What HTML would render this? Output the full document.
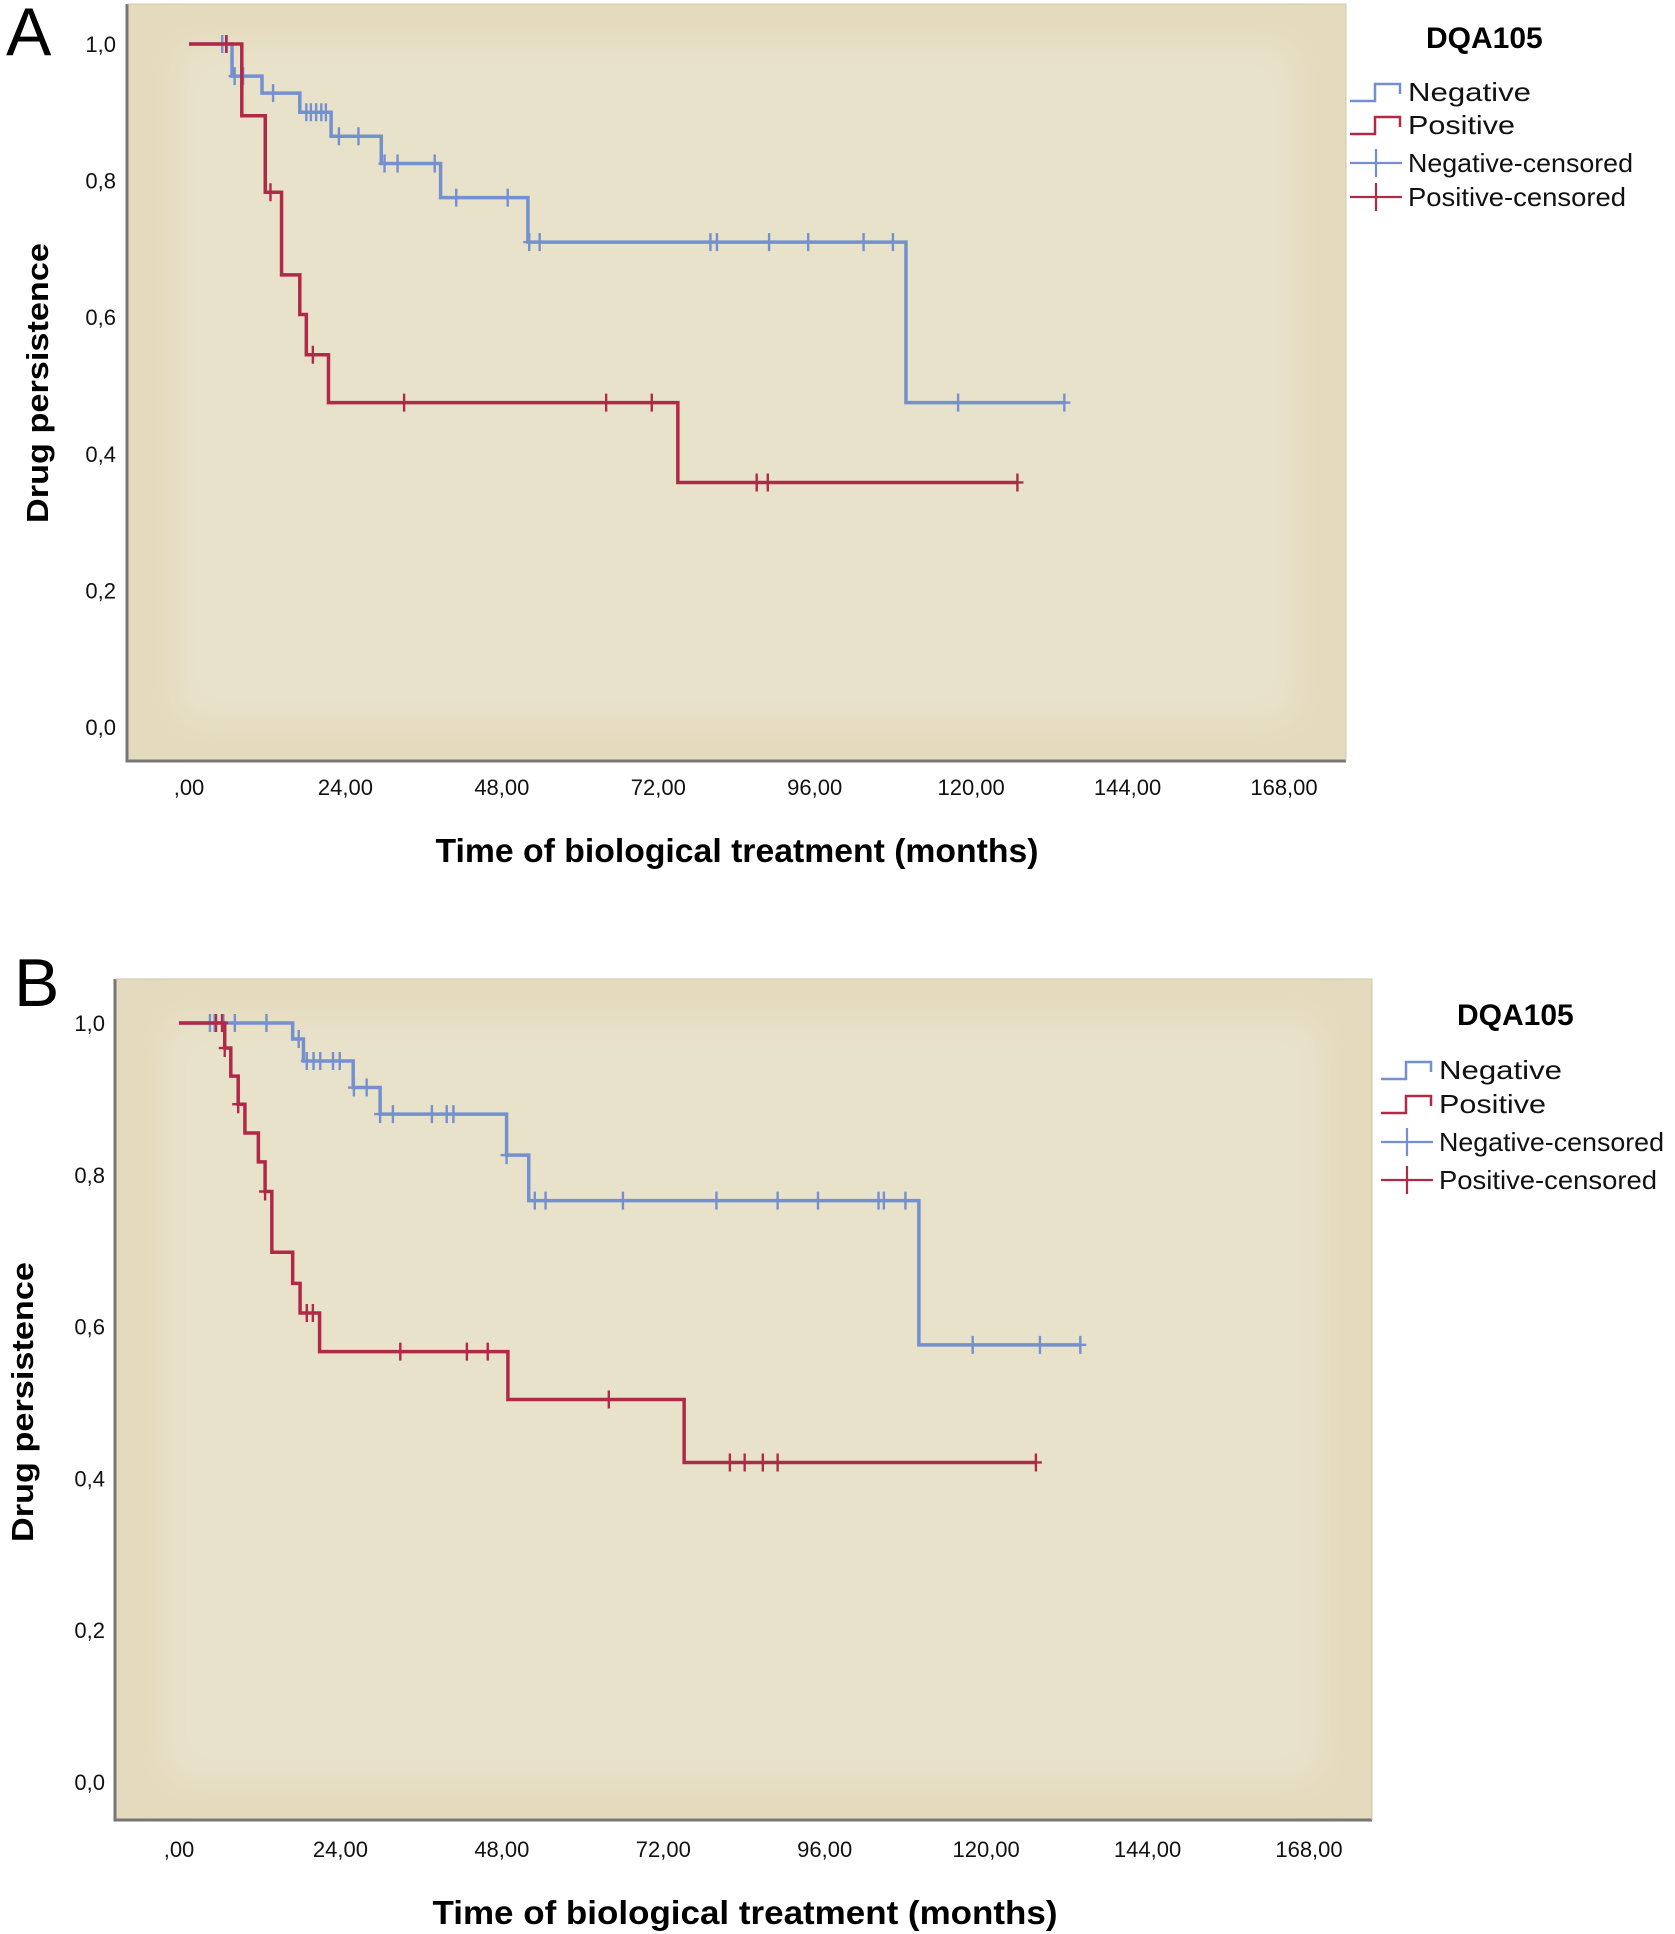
<!DOCTYPE html>
<html><head><meta charset="utf-8"><style>
html,body{margin:0;padding:0;background:#fff;}
svg{display:block;font-family:"Liberation Sans",sans-serif;}
</style></head><body>
<svg id="chart" width="1675" height="1934" viewBox="0 0 1675 1934" xmlns="http://www.w3.org/2000/svg">
<defs>
<filter id="blur" x="-10%" y="-10%" width="120%" height="120%"><feGaussianBlur stdDeviation="18"/></filter>
</defs>
</svg>
<script>
// ---- Data (months, survival) ----
const xTicks = [0, 24, 48, 72, 96, 120, 144, 168];
const xTickLabels = [",00", "24,00", "48,00", "72,00", "96,00", "120,00", "144,00", "168,00"];
const yTicks = [0, 0.2, 0.4, 0.6, 0.8, 1.0];
const yTickLabels = ["0,0", "0,2", "0,4", "0,6", "0,8", "1,0"];
const legendLabels = ["Negative", "Positive", "Negative-censored", "Positive-censored"];

const aNegTimes = [0, 6.6, 11.2, 17, 21.8, 29.5, 38.6, 52, 110];
const aNegVals = [1.0, 0.953, 0.928, 0.90, 0.865, 0.825, 0.775, 0.71, 0.475];
const aNegEnd = 134.3;
const aNegCens = [5.1, 5.8, 7.0, 8.3, 12.9, 18, 18.7, 19.5, 20.3, 21, 23, 26, 30, 32, 37.7, 41, 48.9, 52.2, 53.8, 80, 81, 89, 95, 103.5, 108, 118, 134.3];

const aPosTimes = [0, 8.1, 11.7, 14.2, 17, 18, 21.4, 75];
const aPosVals = [1.0, 0.895, 0.783, 0.662, 0.604, 0.545, 0.475, 0.358];
const aPosEnd = 127.1;
const aPosCens = [5.7, 12.5, 19, 33, 64, 71, 87.1, 88.8, 127.1];

const bNegTimes = [0, 16.9, 18.5, 25.9, 29.9, 48.7, 52, 110];
const bNegVals = [1.0, 0.979, 0.95, 0.915, 0.88, 0.826, 0.766, 0.576];
const bNegEnd = 134;
const bNegCens = [4.6, 5.3, 6.6, 8.3, 13, 17.8, 19, 20, 21, 22.9, 23.9, 26, 27.9, 29.9, 31.8, 37.6, 39.8, 40.8, 48.7, 52.9, 54.5, 66, 79.9, 89, 95, 104, 104.8, 108, 118, 128, 134];

const bPosTimes = [0, 6.8, 7.7, 8.8, 9.8, 11.8, 12.8, 13.8, 16.9, 18, 20.9, 48.9, 75.1];
const bPosVals = [1.0, 0.967, 0.93, 0.893, 0.855, 0.817, 0.778, 0.698, 0.657, 0.618, 0.567, 0.504, 0.421];
const bPosEnd = 127.4;
const bPosCens = [5.5, 6.4, 6.8, 8.8, 12.8, 19, 19.9, 32.9, 42.8, 45.9, 63.9, 81.9, 84.1, 86.8, 89, 127.4];

const NS = "http://www.w3.org/2000/svg";
const svg = document.getElementById("chart");
function mk(tag, attrs, parent) {
  const e = document.createElementNS(NS, tag);
  for (const k in attrs) e.setAttribute(k, attrs[k]);
  (parent || svg).appendChild(e);
  return e;
}
const BLUE = "#7490cf", RED = "#b02a48";

function survAt(times, vals, t) {
  let v = vals[0];
  for (let i = 0; i < times.length; i++) if (times[i] <= t + 1e-9) v = vals[i];
  return v;
}

function panel(cfg) {
  const g = mk("g", {});
  
  
  const X = m => cfg.x0 + m * (cfg.x168 - cfg.x0) / 168;
  const Y = v => cfg.y0 + (1 - v) * (cfg.y1 - cfg.y0);
  const bg = mk("rect", {x: cfg.L, y: cfg.T, width: cfg.R - cfg.L, height: cfg.B - cfg.T, fill: "#e4dabd"}, g);
  
  
  mk("rect", {x: cfg.L + 50, y: cfg.T + 40, width: cfg.R - cfg.L - 100, height: cfg.B - cfg.T - 80, fill: "#e9e2cb", filter: "url(#blur)"}, g);
  const ax = mk("path", {d: `M${cfg.L},${cfg.T} V${cfg.B} H${cfg.R}`, fill: "none", stroke: "#777", "stroke-width": 3}, g);
  
  
  mk("path", {d: `M${cfg.L},${cfg.T} H${cfg.R} V${cfg.B}`, fill: "none", stroke: "#cfc7ab", "stroke-width": 1}, g);
  yTicks.forEach((v, i) => {
    const t = mk("text", {x: cfg.yLabX, y: Y(v) + 8, "font-size": 22, "text-anchor": "end", fill: "#111"}, g);
    t.textContent = yTickLabels[i];
    
    
  });
  xTicks.forEach((m, i) => {
    const t = mk("text", {x: X(m), y: cfg.xLabY + 8, "font-size": 22, "text-anchor": "middle", fill: "#111"}, g);
    t.textContent = xTickLabels[i];
    
    
  });
  const xt = mk("text", {x: cfg.xTitleX, y: cfg.xTitleY + 12, "font-size": 33, "font-weight": "bold", "text-anchor": "middle", fill: "#000", textLength: cfg.xTitleW, lengthAdjust: "spacingAndGlyphs"}, g);
  xt.textContent = "Time of biological treatment (months)";
  
  
  const yt = mk("text", {x: 0, y: 0, "font-size": 31, "font-weight": "bold", "text-anchor": "middle", fill: "#000", transform: `translate(${cfg.yTitleX + 11},${cfg.yTitleY}) rotate(-90)`, textLength: 280, lengthAdjust: "spacingAndGlyphs"}, g);
  yt.textContent = "Drug persistence";
  
  
  const pl = mk("text", {x: cfg.letterX, y: cfg.letterY, "font-size": 68, fill: "#000"}, g);
  pl.textContent = cfg.letter;
  
  
  function curve(times, vals, end, cens, color, nm) {
    let d = `M${X(times[0])},${Y(vals[0])}`;
    for (let i = 1; i < times.length; i++) d += ` H${X(times[i])} V${Y(vals[i])}`;
    d += ` H${X(end)}`;
    const p = mk("path", {d, fill: "none", stroke: color, "stroke-width": 3.5}, g);
    
    
    cens.forEach(c => {
      const y = Y(survAt(times, vals, c));
      const x = X(c);
      const t = mk("path", {d: `M${x},${y - 9} V${y + 9} M${x - 6},${y} H${x + 6}`, stroke: color, "stroke-width": 2.4, fill: "none"}, g);
      
      
    });
  }
  curve(cfg.neg[0], cfg.neg[1], cfg.neg[2], cfg.neg[3], BLUE, "negative");
  curve(cfg.pos[0], cfg.pos[1], cfg.pos[2], cfg.pos[3], RED, "positive");
  const lg = mk("g", {}, g);
  
  
  const lt = mk("text", {x: cfg.legTitleX, y: cfg.legTitleY + 11, "font-size": 30, "font-weight": "bold", fill: "#000"}, lg);
  lt.textContent = "DQA105";
  
  
  legendLabels.forEach((lab, i) => {
    const cy = cfg.legY[i], sx = cfg.legSX, col = i % 2 === 0 ? BLUE : RED;
    const sym = i < 2
      ? mk("path", {d: `M${sx},${cy + 9} H${sx + 25} V${cy - 8} H${sx + 50} V${cy + 2}`, fill: "none", stroke: col, "stroke-width": 2.5}, lg)
      : mk("path", {d: `M${sx},${cy} H${sx + 52} M${sx + 26},${cy - 14} V${cy + 14}`, fill: "none", stroke: col, "stroke-width": 2.2}, lg);
    
    
    const t = mk("text", {x: sx + 58, y: cy + 9, "font-size": 26, fill: "#111", textLength: [123, 107, 225, 218][i], lengthAdjust: "spacingAndGlyphs"}, lg);
    t.textContent = lab;
    
    
  });
}

panel({name: "panel-a", letter: "A", letterX: 6, letterY: 55,
  L: 127, R: 1346, T: 4, B: 761, x0: 189, x168: 1284, y0: 44, y1: 727,
  yLabX: 116, xLabY: 787, xTitleX: 737, xTitleY: 850, xTitleW: 603, yTitleX: 37, yTitleY: 383,
  legTitleX: 1426, legTitleY: 37, legSX: 1350, legY: [92, 125, 163, 197],
  neg: [aNegTimes, aNegVals, aNegEnd, aNegCens], pos: [aPosTimes, aPosVals, aPosEnd, aPosCens]});
panel({name: "panel-b", letter: "B", letterX: 14, letterY: 1006,
  L: 115, R: 1372, T: 979, B: 1820, x0: 179, x168: 1309, y0: 1023, y1: 1782,
  yLabX: 105, xLabY: 1849, xTitleX: 745, xTitleY: 1912, xTitleW: 625, yTitleX: 22, yTitleY: 1402,
  legTitleX: 1457, legTitleY: 1014, legSX: 1381, legY: [1070, 1104, 1142, 1180],
  neg: [bNegTimes, bNegVals, bNegEnd, bNegCens], pos: [bPosTimes, bPosVals, bPosEnd, bPosCens]});
</script>
</body></html>
